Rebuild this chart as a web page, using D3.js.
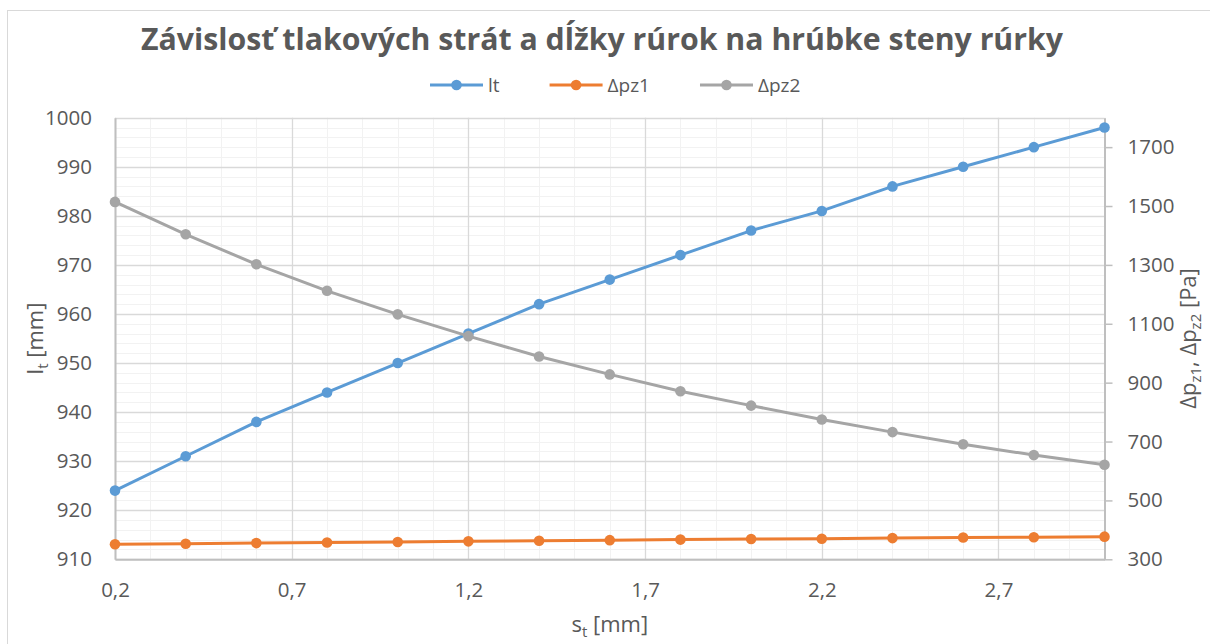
<!DOCTYPE html>
<html>
<head>
<meta charset="utf-8">
<script src="https://cdn.jsdelivr.net/npm/d3@7"></script>
<style>
  html, body { margin: 0; padding: 0; background: #fff; }
  svg { display: block; font-family: "Open Sans", sans-serif; }
</style>
</head>
<body>
<div class="root"></div>
<script>
// data
var st = [0.2, 0.4, 0.6, 0.8, 1.0, 1.2, 1.4, 1.6, 1.8, 2.0, 2.2, 2.4, 2.6, 2.8, 3.0];
var lt = [924, 931, 938, 944, 950, 956, 962, 967, 972, 977, 981, 986, 990, 994, 998];
var dpz1 = [351, 353, 355, 357, 359, 361, 363, 365, 367, 369, 370, 372, 374, 375, 377];
var dpz2 = [1514, 1404, 1302, 1212, 1132, 1058, 989, 928, 871, 822, 775, 732, 691, 654, 621];

var seriesNames = ["lt", "Δpz1", "Δpz2"];
var xTicks = [0.2, 0.7, 1.2, 1.7, 2.2, 2.7];
var xMinor = [0.3, 0.4, 0.5, 0.6, 0.8, 0.9, 1.0, 1.1, 1.3, 1.4, 1.5, 1.6, 1.8, 1.9, 2.0, 2.1, 2.3, 2.4, 2.5, 2.6, 2.8, 2.9, 3.0];
var ltTicks = [910, 920, 930, 940, 950, 960, 970, 980, 990, 1000];
var ltMinor = [912, 914, 916, 918, 922, 924, 926, 928, 932, 934, 936, 938, 942, 944, 946, 948,
               952, 954, 956, 958, 962, 964, 966, 968, 972, 974, 976, 978, 982, 984, 986, 988,
               992, 994, 996, 998];
var dpTicks = [300, 500, 700, 900, 1100, 1300, 1500, 1700];

var width = 1210,
    height = 644,
    plot = { left: 115, right: 1104.5, top: 117.7, bottom: 559.3 },
    textColor = "#595959",
    colors = ["#5b9bd5", "#ed7d31", "#a5a5a5"];

var svg = d3.select(".root")
  .append("svg")
  .attr("width", width)
  .attr("height", height);

// chart frame (cut off at the right and bottom in the reference)
svg.append("rect")
  .attr("x", 7.5).attr("y", 10.5)
  .attr("width", 1300).attr("height", 700)
  .attr("fill", "#fff")
  .attr("stroke", "#d9d9d9")
  .attr("stroke-width", 1);

var x = d3.scaleLinear().domain([0.2, 3.0]).range([plot.left, plot.right]);
var yL = d3.scaleLinear().domain([910, 1000]).range([plot.bottom, plot.top]);
var yR = d3.scaleLinear().domain([300, 1800]).range([plot.bottom, plot.top]);

// gridlines
var grid = svg.append("g").attr("class", "grid");
grid.selectAll(".hminor").data(ltMinor).enter().append("line")
  .attr("x1", plot.left).attr("x2", plot.right)
  .attr("y1", d => Math.round(yL(d)) + 0.5).attr("y2", d => Math.round(yL(d)) + 0.5)
  .attr("stroke", "#f2f2f2").attr("stroke-width", 1);
grid.selectAll(".vminor").data(xMinor).enter().append("line")
  .attr("y1", plot.top).attr("y2", plot.bottom)
  .attr("x1", d => Math.round(x(d)) + 0.5).attr("x2", d => Math.round(x(d)) + 0.5)
  .attr("stroke", "#f2f2f2").attr("stroke-width", 1);
grid.selectAll(".hmajor").data(ltTicks).enter().append("line")
  .attr("x1", plot.left).attr("x2", plot.right)
  .attr("y1", d => Math.round(yL(d)) + 0.5).attr("y2", d => Math.round(yL(d)) + 0.5)
  .attr("stroke", "#d9d9d9").attr("stroke-width", 1.3);
grid.selectAll(".vmajor").data(xTicks).enter().append("line")
  .attr("y1", plot.top).attr("y2", plot.bottom)
  .attr("x1", d => Math.round(x(d)) + 0.5).attr("x2", d => Math.round(x(d)) + 0.5)
  .attr("stroke", "#d9d9d9").attr("stroke-width", 1.3);

// axes
var fmtX = d => d3.format(".1f")(d).replace(".", ",");

var axL = svg.append("g")
  .attr("transform", "translate(" + plot.left + ",0)")
  .call(d3.axisLeft(yL).tickValues(ltTicks).tickSize(0).tickPadding(23).tickFormat(d3.format("d")));

var axB = svg.append("g")
  .attr("transform", "translate(0," + plot.bottom + ")")
  .call(d3.axisBottom(x).tickValues(xTicks).tickSize(0).tickPadding(23).tickFormat(fmtX));

var axR = svg.append("g")
  .attr("transform", "translate(" + plot.right + ",0)")
  .call(d3.axisRight(yR).tickValues(dpTicks).tickSizeInner(8).tickSizeOuter(0).tickPadding(15).tickFormat(d3.format("d")));

[axL, axB, axR].forEach(function(a) {
  a.select(".domain").attr("stroke", "#bfbfbf").attr("stroke-width", 2);
  a.selectAll(".tick line").attr("stroke", "#bfbfbf").attr("stroke-width", 1.5);
  a.selectAll("text")
    .attr("fill", textColor)
    .style("font-family", "'Open Sans', sans-serif")
    .style("font-size", "20.5px");
});

// series
var line = function(vals, yScale) {
  return d3.line()
    .x((d, i) => x(st[i]))
    .y(d => yScale(d))(vals);
};

var series = [
  { name: seriesNames[0], values: lt, scale: yL, color: colors[0] },
  { name: seriesNames[1], values: dpz1, scale: yR, color: colors[1] },
  { name: seriesNames[2], values: dpz2, scale: yR, color: colors[2] }
];

series.forEach(function(s) {
  var g = svg.append("g");
  g.append("path")
    .attr("d", line(s.values, s.scale))
    .attr("fill", "none")
    .attr("stroke", s.color)
    .attr("stroke-width", 3)
    .attr("stroke-linejoin", "round")
    .attr("stroke-linecap", "round");
  g.selectAll("circle")
    .data(s.values)
    .enter().append("circle")
    .attr("cx", (d, i) => x(st[i]))
    .attr("cy", d => s.scale(d))
    .attr("r", 5.3)
    .attr("fill", s.color);
});

// title
svg.append("text")
  .attr("x", 602).attr("y", 50)
  .attr("text-anchor", "middle")
  .attr("fill", textColor)
  .style("font-size", "30px")
  .style("font-weight", "bold")
  .attr("textLength", 922)
  .attr("lengthAdjust", "spacingAndGlyphs")
  .text("Závislosť tlakových strát a dĺžky rúrok na hrúbke steny rúrky");

// legend
var legend = svg.append("g").attr("transform", "translate(430,85)");
var lx = 0;
series.forEach(function(s) {
  var item = legend.append("g").attr("transform", "translate(" + lx + ",0)");
  item.append("line")
    .attr("x1", 0).attr("x2", 53)
    .attr("stroke", s.color).attr("stroke-width", 3);
  item.append("circle").attr("cx", 26.5).attr("r", 5.3).attr("fill", s.color);
  var t = item.append("text")
    .attr("x", 58).attr("dy", "0.35em")
    .attr("fill", textColor)
    .style("font-size", "19px")
    .text(s.name);
  lx += 58 + t.node().getComputedTextLength() + 50;
});

// axis titles
var tl = svg.append("text")
  .attr("transform", "translate(43," + ((plot.top + plot.bottom) / 2) + ") rotate(-90)")
  .attr("text-anchor", "middle")
  .attr("fill", textColor)
  .style("font-size", "22px");
tl.append("tspan").text("l");
tl.append("tspan").attr("dy", 5).style("font-size", "15px").text("t");
tl.append("tspan").attr("dy", -5).text(" [mm]");

var tb = svg.append("text")
  .attr("x", (plot.left + plot.right) / 2).attr("y", 632)
  .attr("text-anchor", "middle")
  .attr("fill", textColor)
  .style("font-size", "22px");
tb.append("tspan").text("s");
tb.append("tspan").attr("dy", 5).style("font-size", "15px").text("t");
tb.append("tspan").attr("dy", -5).text(" [mm]");

var tr = svg.append("text")
  .attr("transform", "translate(1196," + ((plot.top + plot.bottom) / 2) + ") rotate(-90)")
  .attr("text-anchor", "middle")
  .attr("fill", textColor)
  .style("font-size", "22px");
tr.append("tspan").text("Δp");
tr.append("tspan").attr("dy", 5).style("font-size", "15px").text("z1");
tr.append("tspan").attr("dy", -5).text(", Δp");
tr.append("tspan").attr("dy", 5).style("font-size", "15px").text("z2");
tr.append("tspan").attr("dy", -5).text(" [Pa]");
</script>
</body>
</html>
